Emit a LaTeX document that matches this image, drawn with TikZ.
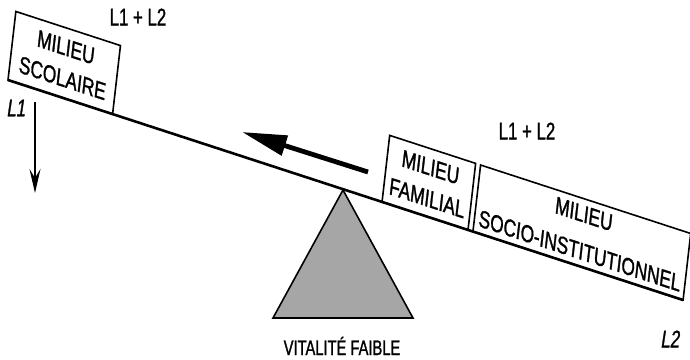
\documentclass[tikz,border=0pt]{standalone}
\usepackage{fontspec}
\setmainfont{Liberation Sans}[FakeStretch=0.7,FakeBold=1.2]
\newfontfamily\boxfont{Liberation Sans}[FakeStretch=0.75,FakeBold=1.2]
\usetikzlibrary{arrows.meta}

\begin{document}
\begin{tikzpicture}[x=1pt, y=1pt, milieu/.style={draw,line width=1.6pt,anchor=south west,
		inner sep=0pt,outer sep=0pt,align=center,transform shape,
		font=\boxfont\fontsize{24}{31}\selectfont}, lbl/.style={font=\fontsize{24}{28}\selectfont}]
	\useasboundingbox (0,0) rectangle (690,359);
	% plank, sheared like the scan
	\begin{scope}[cm={0.9508,-0.3099,0.114,0.993,(8,279)}]
	\node[milieu,minimum width=110,minimum height=69] (scol) at (0,0) {MILIEU\\SCOLAIRE};
	\node[milieu,minimum width=90.4,minimum height=67] (fam) at (393.4,0) {MILIEU\\FAMILIAL};
	\node[milieu,minimum width=221,minimum height=67,font=\boxfont\fontsize{24}{37}\selectfont] (soc) at (489,0) {MILIEU\\SOCIO-INSTITUTIONNEL};
	\end{scope}
	\draw[line width=2.6pt] (scol.south west) to (soc.south east);
	% fulcrum
	\coordinate (top) at (343,169);
	\draw[line width=1.6pt,fill=black!35] (top) -- (273,41) -- (413,41) -- cycle;
	\node[font=\fontsize{21}{24}\selectfont,anchor=base] (vf) at (342,4) {VITALITÉ FAIBLE};
	\node[lbl] (t1) at (138,342) {L1 + L2};
	\node[lbl] (t2) at (527,228) {L1 + L2};
	\node[lbl,xslant=0.15] (l1) at (17,251) {L1};
	\node[lbl,xslant=0.15] (l2) at (671,20) {L2};
	% arrows
	\coordinate (a0) at (368,187);
	\coordinate (a1) at (242,227);
	\draw[line width=4.8pt,-{Triangle[length=45pt,width=20pt]}] (a0) to (a1);
	\coordinate (d0) at (35,257);
	\coordinate (d1) at (35,166);
	\draw[line width=1.3pt,-{Stealth[length=24pt,width=11pt,inset=9pt]}] (d0) to (d1);
\end{tikzpicture}
\end{document}
